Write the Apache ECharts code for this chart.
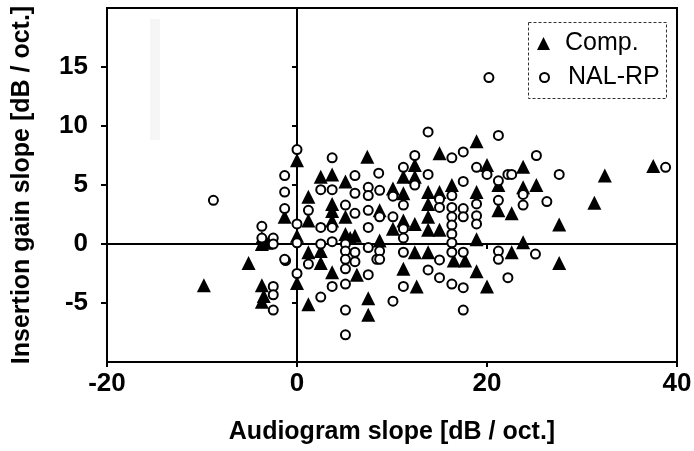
<!DOCTYPE html>
<html>
<head>
<meta charset="utf-8">
<script src="https://cdn.jsdelivr.net/npm/echarts@6/dist/echarts.min.js"></script>
<style>html,body{margin:0;padding:0;background:#fff;}#c{width:694px;height:451px;}</style>
</head>
<body>
<div id="c"></div>
<script>
// Axis settings
const xTicks = [-20, 0, 20, 40];
const yTicks = [-5, 0, 5, 10, 15];
const seriesNames = ['Comp.', 'NAL-RP'];

// Comp. (filled triangles): [audiogram slope, insertion gain slope]
const compData = [
  [-9.8,-3.5],[-5.1,-1.6],[-3.7,0.0],[-3.2,0.1],[-3.7,0.5],[-3.7,-3.5],[-3.7,-4.9],[-3.5,-4.4],
  [-1.3,2.3],[0,7.1],[0,0.7],[0,-3.3],[1.2,4.0],[1.2,2.0],[1.2,-0.7],[1.2,-5.1],
  [2.5,5.7],[2.5,-0.6],[2.5,-1.6],[3.7,5.9],[3.7,3.4],[3.7,2.8],[3.7,2.0],[3.7,-2.4],
  [5.1,5.3],[5.1,2.3],[5.1,0.85],[5.6,0.5],[6.1,0.7],[6.3,-2.6],[7.4,7.4],[7.5,-4.6],[7.5,-6.0],
  [8.7,2.85],[8.7,0.3],[10.1,4.7],[10.1,1.3],[11.2,5.7],[11.2,4.3],[11.2,2.0],[11.2,-2.1],
  [12.4,6.7],[12.4,5.7],[12.4,1.7],[12.4,-0.7],[12.6,-3.6],
  [13.8,4.4],[13.8,3.4],[13.8,2.3],[13.8,1.2],[13.8,-0.7],
  [15.0,7.7],[15.0,4.4],[15.0,1.2],[16.3,5.0],[16.5,-1.4],[17.7,-1.4],
  [18.9,8.7],[18.9,4.4],[18.9,0.4],[18.9,-2.3],[20.0,6.7],[20.0,-3.6],
  [21.2,5.0],[21.2,2.85],[22.6,2.6],[22.6,-0.7],[23.8,6.55],[23.8,4.8],[23.8,0.15],
  [25.2,5.0],[27.6,1.65],[27.6,-1.6],[31.3,3.5],[32.4,5.8],[37.5,6.6]
];

// NAL-RP (open circles)
const nalData = [
  [-8.8,3.7],[-3.7,1.5],[-3.7,0.5],[-2.5,0.5],[-2.5,0],[-1.2,-1.4],[-2.5,-3.6],[-2.5,-4.3],[-2.5,-5.6],
  [0,-2.5],[0,0.1],[0,1.7],[0,8.0],[-1.3,5.8],[-1.3,4.4],[-1.3,3.0],
  [3.7,7.3],[6.1,5.8],[8.6,6.0],[2.5,4.6],[3.7,4.6],[6.1,4.3],[7.5,4.8],[7.5,4.1],[5.1,3.3],
  [1.2,2.85],[6.1,2.6],[7.5,2.85],[2.5,1.4],[3.7,1.4],[7.5,1.4],[5.1,0.0],[2.5,0.0],[3.7,0.2],
  [5.1,-0.6],[5.1,-1.3],[5.1,-2.1],[6.1,-0.7],[6.1,-1.5],[7.5,-0.3],[7.5,-2.6],[8.4,-1.3],
  [1.2,-1.7],[-1.3,-1.3],[3.7,-3.6],[2.5,-4.5],[5.1,-3.4],[5.1,-5.6],[5.1,-7.7],
  [13.8,9.5],[21.2,9.2],[16.3,7.3],[17.5,7.8],[12.4,7.5],[11.2,6.5],[13.8,5.9],[18.9,6.5],
  [20.0,5.9],[21.2,5.35],[22.2,5.9],[12.4,5.0],[17.5,5.3],[8.7,4.55],[10.1,4.05],[11.2,3.3],
  [15.0,3.8],[16.3,4.1],[18.9,3.4],[21.2,3.7],[8.7,2.3],[10.1,2.3],[15.0,3.1],[16.3,3.1],
  [16.3,2.3],[17.5,3.0],[17.5,2.3],[18.9,2.4],[18.9,1.7],[11.2,1.3],[16.3,1.6],[16.3,0.85],
  [11.2,0.5],[16.3,0.1],[8.7,-0.6],[8.7,-1.3],[11.2,-0.7],[15.0,-1.35],[16.3,-0.7],[17.5,-0.7],
  [21.2,-0.6],[21.2,-1.3],[13.8,-2.2],[15.0,-2.85],[16.3,-3.4],[17.5,-3.7],[11.2,-3.6],
  [10.1,-4.85],[17.5,-5.6],[22.2,-2.85],
  [20.2,14.1],[25.2,7.5],[22.6,5.9],[27.6,5.9],[38.8,6.5],[23.8,4.2],[23.8,3.3],[26.3,3.6],[25.1,-0.85]
];

const FONT = '"Liberation Sans", Arial, sans-serif';
const chart = echarts.init(document.getElementById('c'), null, {renderer: 'canvas'});

const lineStyle = {color: '#000', width: 2};
const legendText = {fontSize: 25, color: '#000', fontFamily: FONT, lineHeight: 24};
const option = {
  animation: false,
  backgroundColor: '#fff',
  textStyle: {fontFamily: FONT},
  grid: {
    left: 107, right: 17, top: 8, bottom: 89,
    outerBoundsMode: 'none',
    show: true, borderColor: '#000', borderWidth: 2, backgroundColor: 'transparent'
  },
  legend: [
    {
      orient: 'vertical', left: 537, top: 31, z: 20, padding: 0,
      itemWidth: 13, itemHeight: 13,
      textStyle: Object.assign({padding: [0, 0, 0, 10]}, legendText),
      data: [{name: seriesNames[0], icon: 'triangle', itemStyle: {color: '#000', borderWidth: 0}}]
    },
    {
      orient: 'vertical', left: 539, top: 65, z: 20, padding: 0,
      itemWidth: 9, itemHeight: 9,
      textStyle: Object.assign({padding: [0, 0, 0, 14]}, legendText),
      data: [{name: seriesNames[1], icon: 'circle', itemStyle: {color: '#fff', borderColor: '#000', borderWidth: 2}}]
    }
  ],
  xAxis: [
    {
      type: 'value', position: 'bottom', min: -20, max: 40, interval: 20,
      name: 'Audiogram slope [dB / oct.]', nameLocation: 'middle', nameGap: 58,
      nameTextStyle: {fontSize: 25, fontWeight: 'bold', color: '#000', fontFamily: FONT},
      axisLine: {show: true, onZero: false, lineStyle: lineStyle},
      axisTick: {show: true, inside: false, length: 5, lineStyle: lineStyle, customValues: xTicks},
      axisLabel: {show: true, fontSize: 26, fontWeight: 'bold', color: '#000', margin: 9, fontFamily: FONT, customValues: xTicks},
      splitLine: {show: false}
    },
    {
      type: 'value', position: 'bottom', min: -20, max: 40, interval: 20,
      axisLine: {show: true, onZero: true, lineStyle: lineStyle},
      axisTick: {show: true, inside: false, length: 5, lineStyle: lineStyle},
      axisLabel: {show: false},
      splitLine: {show: false}
    }
  ],
  yAxis: [
    {
      type: 'value', position: 'left', min: -10, max: 20, interval: 5,
      name: 'Insertion gain slope [dB / oct.]', nameLocation: 'middle', nameGap: 72,
      nameTextStyle: {fontSize: 25, fontWeight: 'bold', color: '#000', fontFamily: FONT},
      axisLine: {show: true, onZero: false, lineStyle: lineStyle},
      axisTick: {show: true, inside: false, length: 6, lineStyle: lineStyle, customValues: yTicks},
      axisLabel: {show: true, fontSize: 26, fontWeight: 'bold', color: '#000', margin: 19, fontFamily: FONT, customValues: yTicks},
      splitLine: {show: false}
    },
    {
      type: 'value', position: 'left', min: -10, max: 20, interval: 5,
      axisLine: {show: true, onZero: true, lineStyle: lineStyle},
      axisTick: {show: true, inside: false, length: 5, lineStyle: lineStyle, customValues: yTicks},
      axisLabel: {show: false},
      splitLine: {show: false}
    }
  ],
  graphic: [
    {
      type: 'rect', left: 150, top: 19, z: 0,
      shape: {width: 10, height: 121},
      style: {fill: '#f6f6f6', stroke: null}
    },
    {
      type: 'rect', left: 528, top: 22, z: 10,
      shape: {x: 0.5, y: 0.5, width: 138, height: 76},
      style: {fill: '#fff', stroke: '#333', lineWidth: 1, lineDash: [3, 2]}
    }
  ],
  series: [
    {
      name: seriesNames[0], type: 'scatter', xAxisIndex: 0, yAxisIndex: 0,
      symbol: 'triangle', symbolSize: 14,
      itemStyle: {color: '#000', opacity: 1},
      data: compData, z: 3
    },
    {
      name: seriesNames[1], type: 'scatter', xAxisIndex: 0, yAxisIndex: 0,
      symbol: 'circle', symbolSize: 9,
      itemStyle: {color: '#fff', borderColor: '#000', borderWidth: 2, opacity: 1},
      data: nalData, z: 4
    }
  ]
};
chart.setOption(option);
</script>
</body>
</html>
